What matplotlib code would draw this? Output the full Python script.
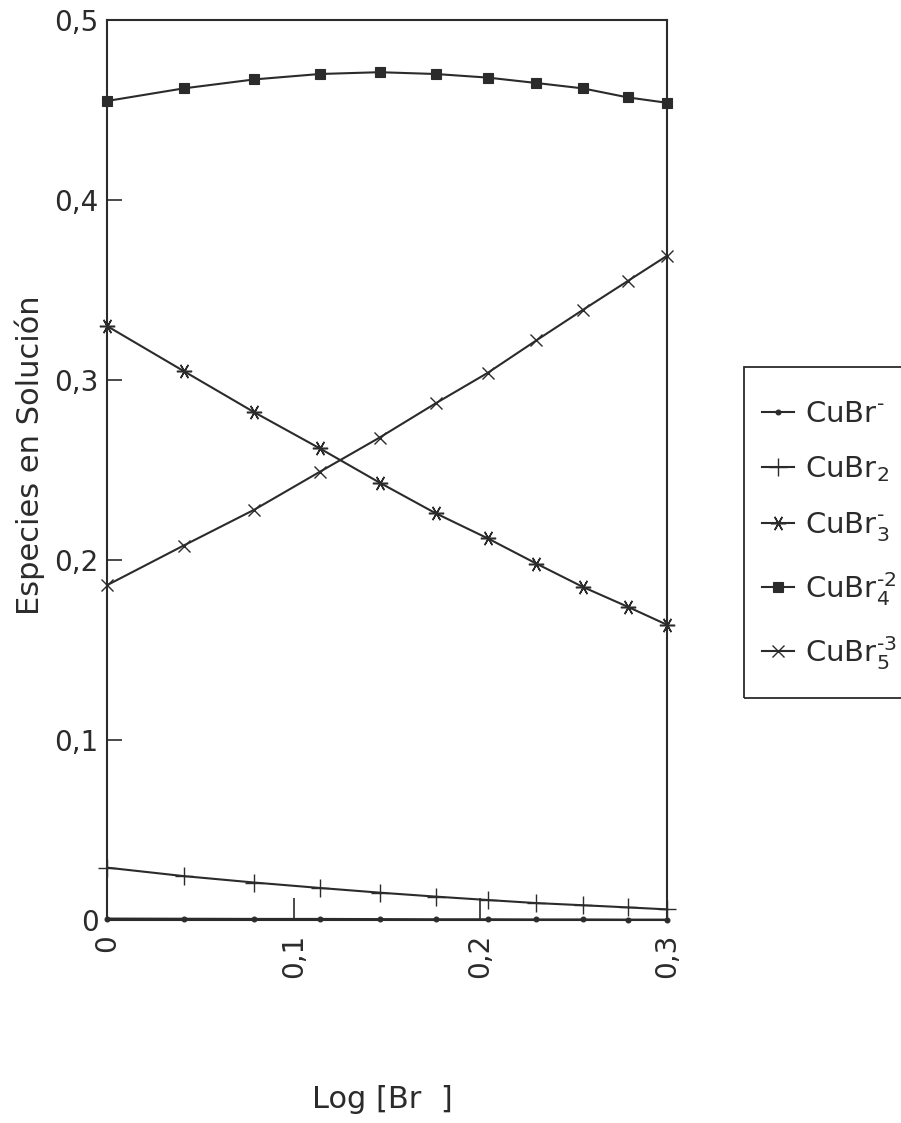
import matplotlib
matplotlib.use("Agg")
import matplotlib.pyplot as plt
from matplotlib.patches import Rectangle

plt.rcParams['font.family'] = ['DejaVu Sans']
plt.rcParams['mathtext.fontset'] = 'dejavusans'

# log [Br-] values
log_br = [0.0, 0.041, 0.079, 0.114, 0.146, 0.176, 0.204, 0.230, 0.255, 0.279, 0.300]

# fraction of each copper-bromide species
cubr1 = [0.0008, 0.0007, 0.0006, 0.0006, 0.0005, 0.0004, 0.0004, 0.0003, 0.0003, 0.0002, 0.0002]
cubr2 = [0.0291, 0.0244, 0.0208, 0.0178, 0.0152, 0.0130, 0.0111, 0.0094, 0.0082, 0.0070, 0.0059]
cubr3 = [0.330, 0.305, 0.282, 0.262, 0.243, 0.226, 0.212, 0.198, 0.185, 0.174, 0.164]
cubr4 = [0.455, 0.462, 0.467, 0.470, 0.471, 0.470, 0.468, 0.465, 0.462, 0.457, 0.454]
cubr5 = [0.186, 0.208, 0.228, 0.249, 0.268, 0.287, 0.304, 0.322, 0.339, 0.355, 0.369]

# hyphen-style charge signs keep the stacked indices narrow
labels = ['CuBr$^{\u2010}$', 'CuBr$_{2}$', 'CuBr$_{3}^{\u2010}$',
          'CuBr$_{4}^{\u20102}$', 'CuBr$_{5}^{\u20103}$']
xticks = [0, 0.1, 0.2, 0.3]
xticklabels = ['0', '0,1', '0,2', '0,3']
yticks = [0, 0.1, 0.2, 0.3, 0.4, 0.5]
yticklabels = ['0', '0,1', '0,2', '0,3', '0,4', '0,5']

ink = '#2b2b2b'
asterisk = (6, 2, 90)

fig = plt.figure(figsize=(9.01, 11.23), dpi=100)
ax = fig.add_axes([107 / 901, 1 - 920 / 1123, 560 / 901, 900 / 1123])

styles = [
    dict(marker='o', ms=3.5, mew=0.8),
    dict(marker='+', ms=13, mew=1.0),
    dict(marker=asterisk, ms=11, mew=1.1),
    dict(marker='s', ms=6.5, mew=0.8),
    dict(marker='x', ms=9, mew=1.0),
]
series = [cubr1, cubr2, cubr3, cubr4, cubr5]
handles = []
for ys, st, lab in zip(series, styles, labels):
    h, = ax.plot(log_br, ys, color=ink, lw=1.5, mfc=ink, mec=ink,
                 clip_on=False, label=lab, **st)
    handles.append(h)

ax.set_xlim(0, 0.3)
ax.set_ylim(0, 0.5)
ax.set_xticks(xticks)
ax.set_xticklabels(xticklabels, rotation=90, fontsize=20)
ax.set_yticks(yticks)
ax.set_yticklabels(yticklabels, fontsize=20)
ax.tick_params(axis='x', direction='in', length=16, width=1.2, color=ink,
               labelcolor=ink, pad=10)
ax.tick_params(axis='y', direction='in', length=11, width=1.2, color=ink,
               labelcolor=ink, pad=6)
for sp in ax.spines.values():
    sp.set_linewidth(1.5)
    sp.set_color(ink)

fig.text(30 / 901, 1 - 455 / 1123, 'Especies en Solución', rotation=90,
         ha='center', va='center', fontsize=22, color=ink)
fig.text(382 / 901, 1 - 1100 / 1123, 'Log [Br  ]', ha='center', va='center',
         fontsize=22, color=ink)

# legend entries, with the surrounding box drawn as its own frame
leg = fig.legend(handles=handles, loc='upper left',
                 bbox_to_anchor=(744 / 901, 1 - 382 / 1123),
                 fontsize=21, frameon=False,
                 handlelength=1.1, handletextpad=0.36, borderpad=0.62,
                 labelspacing=0.9, borderaxespad=0)
for t in leg.get_texts():
    t.set_color(ink)

fig.add_artist(Rectangle((744 / 901, 1 - 698 / 1123), 170 / 901, 331 / 1123,
                         transform=fig.transFigure, fill=False,
                         edgecolor=ink, linewidth=1.3, clip_on=False))

fig.savefig('out.png', dpi=100, facecolor='white')
